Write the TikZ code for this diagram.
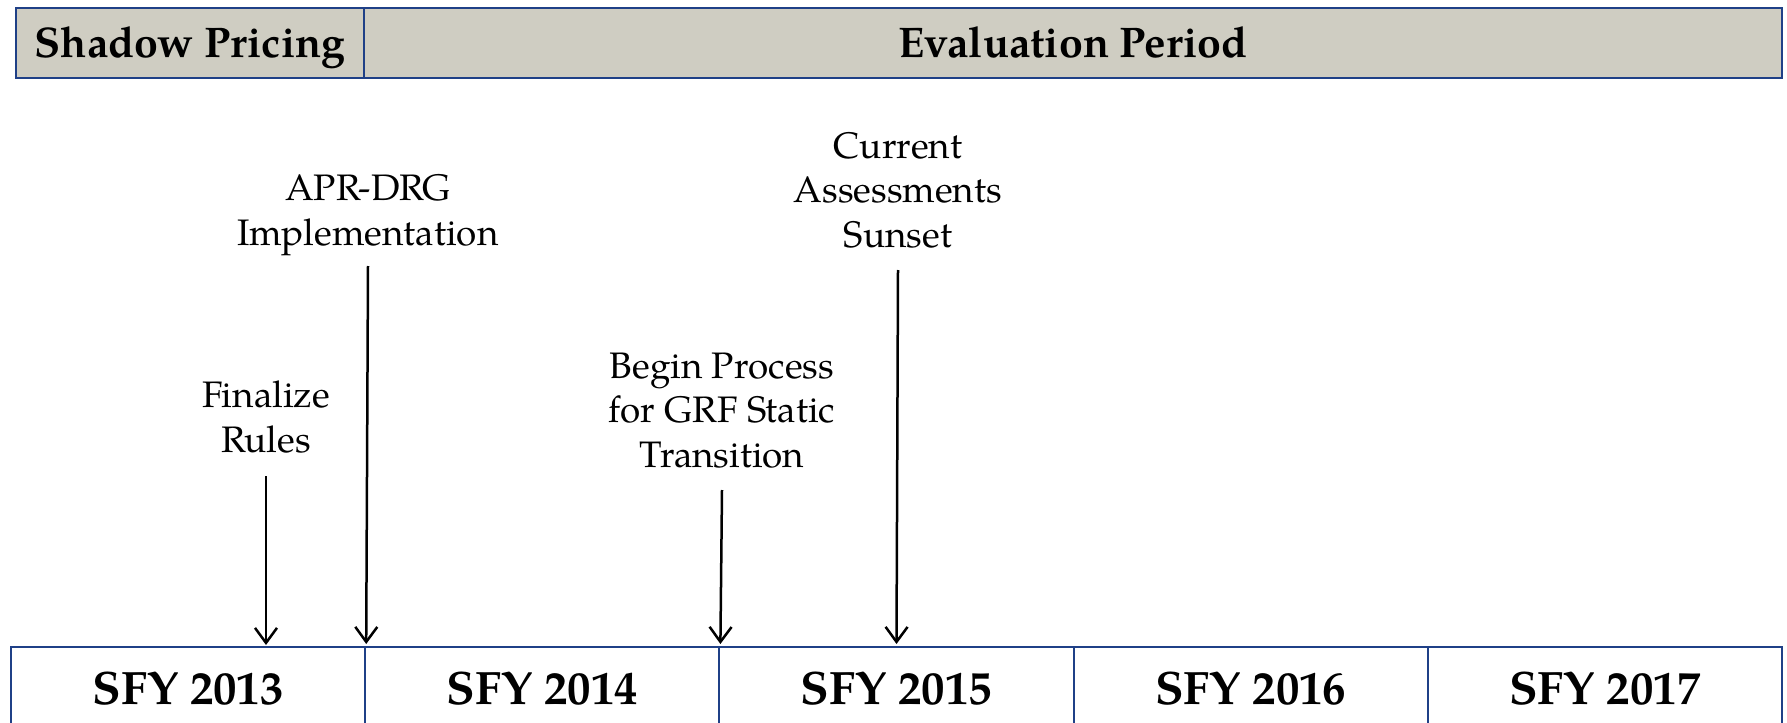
\documentclass[tikz,border=0pt]{standalone}
\usepackage{fontspec}
\setmainfont{TeX Gyre Pagella}
\usepackage{xcolor}
\usetikzlibrary{arrows.meta,calc,positioning}
\definecolor{barfill}{HTML}{CFCDC2}
\definecolor{barline}{HTML}{1F4087}
\tikzset{
  period/.style={draw=barline, line width=2.5bp, fill=barfill, minimum height=70bp, inner sep=0pt,
    text height=30bp, text depth=0pt, font=\fontsize{43}{50}\selectfont\bfseries},
  year/.style={draw=barline, line width=2bp, minimum width=354.2bp, minimum height=80bp, inner sep=0pt,
    text height=34bp, text depth=0pt, font=\fontsize{47}{56}\selectfont\bfseries},
  event/.style={align=center, inner sep=0pt, text depth=0pt, font=\fontsize{37}{45}\selectfont},
  marker/.style={line width=2.5bp, -{Straight Barb[length=15bp,width=22bp,line width=2.5bp]}}
}

\begin{document}
\begin{tikzpicture}[x=1bp,y=-1bp]
			\clip (0,0) rectangle (1787,723);
			% periods along the top
			\node[period, minimum width=348bp] (shadow) at (190,43) {Shadow Pricing};
			\node[period, minimum width=1418bp] (eval) at (1073,43) {Evaluation Period};
			% fiscal years along the bottom
			\foreach \yr [count=\i from 0] in {2013,2014,2015,2016,2017}
				\node[year] (y\yr) at ({188.1+354.2*\i},687) {SFY \yr};
			% events
			\coordinate (finS) at (266,476);
			\coordinate (finE) at (266,645);
			\coordinate (aprS) at (368,266);
			\coordinate (grfS) at (722,490);
			\coordinate (sunS) at (898,270);
			\node[event, above=23bp of finS] (fin) {Finalize\\Rules};
			\node[event, above=20bp of aprS] (apr) {APR-DRG\\Implementation};
			\node[event, above=22bp of grfS] (grf) {Begin Process\\for GRF Static\\Transition};
			\node[event, above=22bp of sunS] (sun) {Current\\Assessments\\Sunset};
			\draw[marker] (finS) to (finE);
			\draw[marker] (aprS) to ($(y2013.north east)+(0,-2)$);
			\draw[marker] (grfS) to ($(y2014.north east)+(0,-2)$);
			\draw[marker] (sunS) to ($(y2015.north)+(0,-2)$);
\end{tikzpicture}
\end{document}
